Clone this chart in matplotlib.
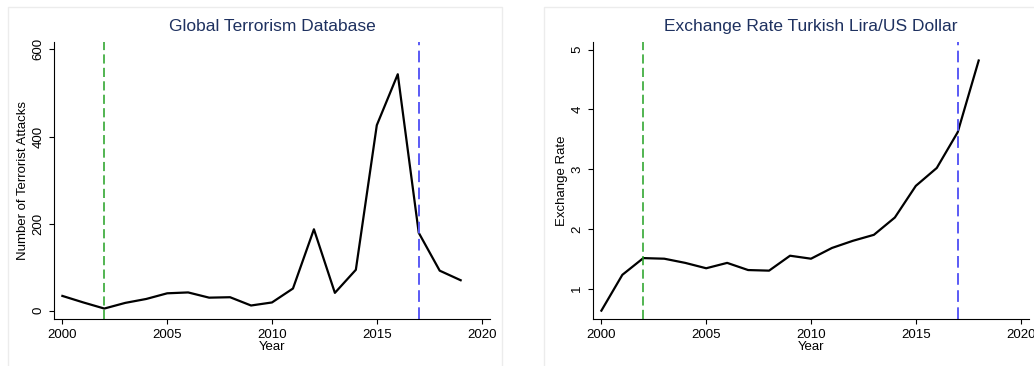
import matplotlib
matplotlib.use('Agg')
import matplotlib.pyplot as plt
from matplotlib.patches import Rectangle

plt.rcParams['font.family'] = ['Liberation Sans', 'DejaVu Sans']

# 数据
years_gtd = list(range(2000, 2020))
attacks = [34, 19, 5, 18, 27, 40, 42, 30, 31, 12, 19, 51, 187, 41, 94, 426, 543, 179, 92, 70]

years_fx = list(range(2000, 2019))
rate = [0.63, 1.23, 1.51, 1.50, 1.43, 1.34, 1.43, 1.31, 1.30, 1.55, 1.50, 1.68,
        1.80, 1.90, 2.19, 2.72, 3.02, 3.62, 4.82]

event_years = [2002, 2017]
event_colors = ['#22a022', '#5a5af5']

fig = plt.figure(figsize=(10.34, 3.66), dpi=100, facecolor='white')

# 面板边框（放在坐标轴下面）
for x0, w in [(8 / 1034, 494 / 1034), (544 / 1034, 500 / 1034)]:
    fig.patches.append(Rectangle((x0, -0.05), w, 1.03, transform=fig.transFigure,
                                 facecolor='none', edgecolor='#ececec', linewidth=1,
                                 zorder=-1))

ax1 = fig.add_axes([54 / 1034, 1 - 319 / 366, 436 / 1034, 277 / 366])
ax2 = fig.add_axes([593 / 1034, 1 - 319 / 366, 436 / 1034, 277 / 366])

def style(ax, title, ylabel):
    ax.set_title(title, color='#1e3160', fontsize=12.5, pad=8)
    ax.set_xlabel('Year', fontsize=9.5, labelpad=0)
    ax.set_ylabel(ylabel, fontsize=9.5, labelpad=2)
    ax.spines['top'].set_visible(False)
    ax.spines['right'].set_visible(False)
    ax.spines['left'].set_linewidth(0.8)
    ax.spines['bottom'].set_linewidth(0.8)
    ax.set_xticks([2000, 2005, 2010, 2015, 2020])
    ax.set_xlim(1999.6, 2020.4)
    ax.tick_params(axis='both', labelsize=9.5, width=0.8, length=3.5)
    for lab in ax.get_yticklabels():
        lab.set_rotation(90)
        lab.set_va('center')
    for yr, c in zip(event_years, event_colors):
        ax.axvline(yr, color=c, linestyle=(0, (6, 2.8)), linewidth=1.4 if yr == 2017 else 1.1)

ax1.plot(years_gtd, attacks, color='black', linewidth=1.6)
ax1.set_ylim(-19, 617)
ax1.set_yticks([0, 200, 400, 600])
style(ax1, 'Global Terrorism Database', 'Number of Terrorist Attacks')

ax2.plot(years_fx, rate, color='black', linewidth=1.6)
ax2.set_ylim(0.49, 5.13)
ax2.set_yticks([1, 2, 3, 4, 5])
style(ax2, 'Exchange Rate Turkish Lira/US Dollar', 'Exchange Rate')

plt.savefig('out.png', dpi=100)
